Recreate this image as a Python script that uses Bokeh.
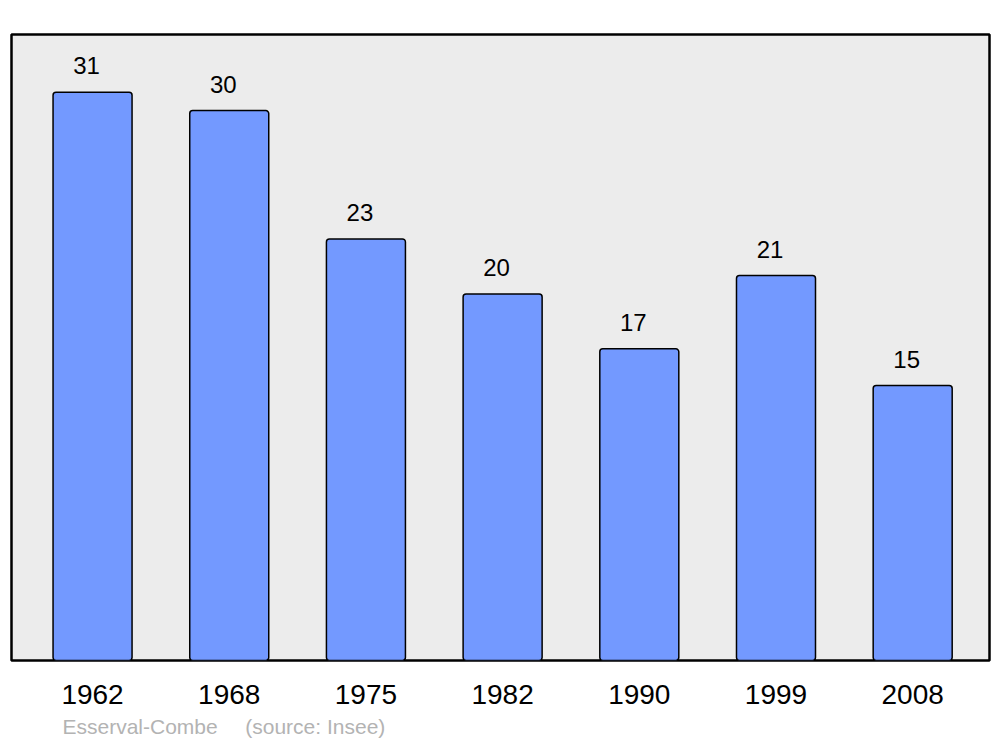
from bokeh.plotting import figure
from bokeh.models import Range1d, FixedTicker, ColumnDataSource, Title
from bokeh.core.properties import value
from bokeh.embed import file_html
from bokeh.resources import INLINE

years = ["1962", "1968", "1975", "1982", "1990", "1999", "2008"]
population = [31, 30, 23, 20, 17, 21, 15]
title_text = "Esserval-Combe"
source_text = "(source: Insee)"

idx = list(range(len(years)))
src = ColumnDataSource(dict(x=idx, top=population, lbl=[str(v) for v in population]))

p = figure(width=1000, height=747, output_backend="svg", toolbar_location=None,
           x_range=Range1d(-0.593, 6.562), y_range=Range1d(0, 34.15),
           min_border_left=11, min_border_right=11, min_border_top=34, min_border_bottom=87)

p.background_fill_color = "#ececec"
p.border_fill_color = "white"
p.outline_line_color = "black"
p.outline_line_width = 2.5
p.xgrid.visible = False
p.ygrid.visible = False
p.yaxis.visible = False

p.vbar(x="x", top="top", bottom=0, width=0.578, source=src,
       fill_color="#7399ff", line_color="black", line_width=1.5, border_radius=3)

p.text(x="x", y="top", text="lbl", source=src, x_offset=-6, y_offset=-18,
       text_align="center", text_baseline="bottom", text_font_size=value("24px"),
       text_font=value("Liberation Sans"), text_color="black")

xa = p.xaxis[0]
xa.ticker = FixedTicker(ticks=idx)
xa.major_label_overrides = {i: y for i, y in zip(idx, years)}
xa.axis_line_color = None
xa.major_tick_line_color = None
xa.minor_tick_line_color = None
xa.major_tick_out = 0
xa.major_tick_in = 0
xa.major_label_standoff = 24
xa.major_label_text_font = "Liberation Sans"
xa.major_label_text_font_size = "28px"
xa.major_label_text_color = "black"

nb = "\u00a0" * 4 + "\u2009"
p.add_layout(Title(text=title_text + nb + source_text, align="left", offset=51,
                   text_font="Liberation Sans", text_font_size="21px",
                   text_font_style="normal", text_color="#b3b3b3", standoff=13,
                   vertical_align="bottom"), "below")

open("out.html", "w").write(file_html(p, INLINE))
